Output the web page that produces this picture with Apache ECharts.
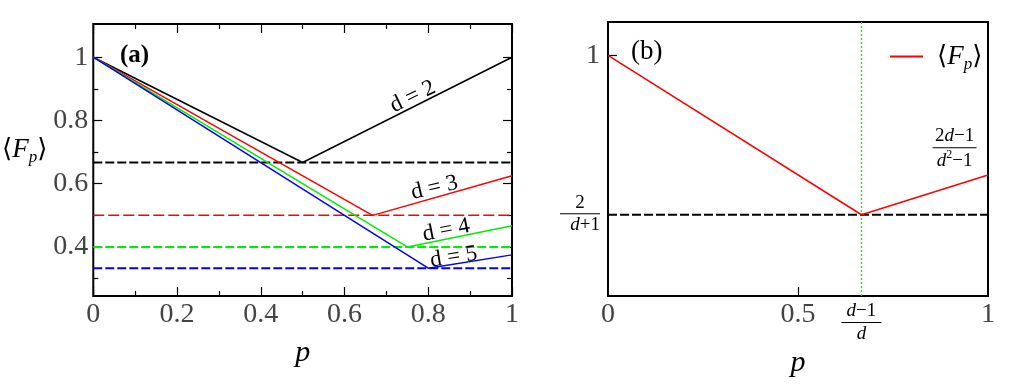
<!DOCTYPE html>
<html>
<head>
<meta charset="utf-8">
<script src="https://cdn.jsdelivr.net/npm/echarts@6/dist/echarts.min.js"></script>
<style>
  html, body { margin: 0; padding: 0; background: #fff; }
  #chart { width: 1036px; height: 388px; }
</style>
</head>
<body>
<div id="chart"></div>
<script>
// panel (a): average fidelity vs p for d = 2..5
const d2Line = [[0, 1], [0.5, 0.667], [1, 1]];
const d3Line = [[0, 1], [0.667, 0.5], [1, 0.625]];
const d4Line = [[0, 1], [0.75, 0.4], [1, 0.467]];
const d5Line = [[0, 1], [0.8, 0.333], [1, 0.375]];
const floorLevels = [0.667, 0.5, 0.4, 0.333];
const lineLabels = ['d = 2', 'd = 3', 'd = 4', 'd = 5'];
const labelAnchors = [[0.763, 0.875], [0.815, 0.587], [0.843, 0.453], [0.861, 0.368]];
const labelAngles = [26, 13, 11, 9];
const yMajorA = [0.4, 0.6, 0.8, 1];
const yMinorA = [0.3, 0.5, 0.7, 0.9];

// panel (b): generic d
const bLine = [[0, 1], [0.667, 0.5], [1, 0.625]];
const bFloor = 0.5;
const bCross = 0.667;
const bXLabels = [0, 0.5, 0.667, 1];
const bYLabels = [0.5, 1];
const bEndAnchor = [0.912, 0.704];

const yMin = 0.245, yMax = 1.105;
const serif = "'Liberation Serif', 'DejaVu Serif', serif";
const lineColors = ['#000000', '#ff0000', '#00ee00', '#0000ff'];

const chart = echarts.init(document.getElementById('chart'));

const fracRich = {
  fn: { fontFamily: serif, fontSize: 19, color: '#000', width: 40, align: 'center', lineHeight: 18 },
  fni: { fontFamily: serif, fontSize: 19, fontStyle: 'italic', color: '#000', lineHeight: 18 },
  bar: { width: 40, height: 1, backgroundColor: '#000', fontSize: 1, lineHeight: 3 },
  fdi: { fontFamily: serif, fontSize: 19, fontStyle: 'italic', color: '#000', lineHeight: 20 },
  fd: { fontFamily: serif, fontSize: 19, color: '#000', lineHeight: 20 },
  sup: { fontFamily: serif, fontSize: 12, color: '#000', padding: [0, 0, 12, 0], verticalAlign: 'bottom' }
};
const brackRich = {
  a: { fontFamily: serif, fontSize: 26, color: '#000', verticalAlign: 'bottom' },
  i: { fontFamily: serif, fontSize: 27, fontStyle: 'italic', color: '#000', verticalAlign: 'bottom' },
  s: { fontFamily: serif, fontSize: 17, fontStyle: 'italic', color: '#000', padding: [0, 0, -3, 0], verticalAlign: 'bottom' }
};
const fpText = '{a|⟨}{i|F}{s|p}{a|⟩}';

function tickLabel(size) {
  return { fontFamily: serif, fontSize: size, color: '#444' };
}

const pName = {
  name: 'p', nameLocation: 'middle', nameGap: 42,
  nameTextStyle: { fontFamily: serif, fontSize: 30, fontStyle: 'italic', color: '#000' }
};

const xAxes = [
  Object.assign({
    gridIndex: 0, type: 'value', min: 0, max: 1, interval: 0.2, position: 'bottom',
    axisLine: { show: false }, splitLine: { show: false },
    axisTick: { inside: true, length: 9, lineStyle: { color: '#000', width: 1.2 } },
    minorTick: { show: true, splitNumber: 2, length: 5, lineStyle: { color: '#000', width: 1.2 } },
    axisLabel: Object.assign(tickLabel(28), { margin: 5, showMinLabel: true, showMaxLabel: true,
      formatter: v => String(+v.toFixed(1)) })
  }, pName),
  {
    gridIndex: 0, type: 'value', min: 0, max: 1, interval: 0.2, position: 'top',
    axisLine: { show: false }, splitLine: { show: false }, axisLabel: { show: false },
    axisTick: { inside: true, length: 9, lineStyle: { color: '#000', width: 1.2 } },
    minorTick: { show: true, splitNumber: 2, length: 5, lineStyle: { color: '#000', width: 1.2 } }
  },
  Object.assign({
    gridIndex: 1, type: 'value', min: 0, max: 1, position: 'bottom',
    axisLine: { show: false }, splitLine: { show: false },
    axisTick: { inside: true, length: 9, customValues: [0.5], lineStyle: { color: '#000', width: 1.2 } },
    axisLabel: Object.assign(tickLabel(28), {
      margin: 5, customValues: bXLabels, hideOverlap: false,
      // fraction label where the minimum sits
      formatter: v => Math.abs(v - bCross) < 1e-6 ? '{fni|d}{fd|−1}\n{bar| }\n{fdi|d}' : String(v),
      rich: fracRich
    })
  }, pName)
];

function yTicks(pos, vals, len, labels) {
  return {
    gridIndex: 0, type: 'value', min: yMin, max: yMax, position: pos,
    axisLine: { show: false }, splitLine: { show: false },
    axisTick: { inside: true, length: len, customValues: vals, lineStyle: { color: '#000', width: 1.2 } },
    axisLabel: labels ? Object.assign(tickLabel(28), { margin: 5, customValues: vals, formatter: v => String(v) })
                      : { show: false }
  };
}

const yAxes = [
  Object.assign(yTicks('left', yMajorA, 9, true), {
    name: fpText, nameLocation: 'middle', nameGap: 46, nameRotate: 0,
    nameTextStyle: { rich: brackRich, align: 'right', padding: [0, 0, 20, 0] }
  }),
  yTicks('left', yMinorA, 5, false),
  yTicks('right', yMajorA, 9, false),
  yTicks('right', yMinorA, 5, false),
  {
    gridIndex: 1, type: 'value', min: yMin, max: yMax, position: 'left',
    axisLine: { show: false }, splitLine: { show: false },
    axisTick: { inside: true, length: 9, customValues: [1], lineStyle: { color: '#000', width: 1.2 } },
    axisLabel: Object.assign(tickLabel(28), {
      margin: 8, customValues: bYLabels, align: 'right',
      formatter: v => v === 1 ? '1' : '{fn|2}\n{bar| }\n{fdi|d}{fd|+1}',
      rich: fracRich
    })
  }
];

const curvesA = [d2Line, d3Line, d4Line, d5Line];
const floorStyles = [
  { width: 2, type: [9, 3] },
  { width: 1.5, type: [11, 4] },
  { width: 2, type: [9, 3] },
  { width: 2, type: [9, 3] }
];

const series = [];
curvesA.forEach((pts, k) => {
  series.push({
    type: 'line', xAxisIndex: 0, yAxisIndex: 0, data: pts, symbol: 'none', silent: true,
    lineStyle: { color: lineColors[k], width: 1.5 }, z: 3
  });
  series.push({
    type: 'line', xAxisIndex: 0, yAxisIndex: 0, symbol: 'none', silent: true,
    data: [[0, floorLevels[k]], [1, floorLevels[k]]],
    lineStyle: Object.assign({ color: lineColors[k] }, floorStyles[k]), z: 2
  });
  series.push({
    type: 'scatter', xAxisIndex: 0, yAxisIndex: 0, symbolSize: 0, silent: true,
    data: [labelAnchors[k]], itemStyle: { opacity: 1 },
    label: {
      show: true, position: 'inside', rotate: labelAngles[k], formatter: lineLabels[k],
      fontFamily: serif, fontSize: 23, color: '#000'
    }, z: 4
  });
});

// panel (b)
series.push({
  name: 'Fp', type: 'line', xAxisIndex: 2, yAxisIndex: 4, data: bLine, symbol: 'none', silent: true,
  lineStyle: { color: '#ff0000', width: 1.5 }, itemStyle: { color: '#ff0000' }, z: 3
});
series.push({
  type: 'line', xAxisIndex: 2, yAxisIndex: 4, symbol: 'none', silent: true,
  data: [[0, bFloor], [1, bFloor]],
  lineStyle: { color: '#000', width: 2, type: [9, 3] }, z: 2
});
series.push({
  type: 'line', xAxisIndex: 2, yAxisIndex: 4, symbol: 'none', silent: true,
  data: [[bCross, yMin], [bCross, yMax]],
  lineStyle: { color: '#00ff00', width: 1.4, type: [2, 2] }, z: 1
});
series.push({
  type: 'scatter', xAxisIndex: 2, yAxisIndex: 4, symbolSize: 0, silent: true,
  data: [bEndAnchor], itemStyle: { opacity: 1 },
  label: {
    show: true, position: 'inside',
    formatter: '{fd|2}{fni|d}{fd|−1}\n{bar| }\n{fdi|d}{sup|2}{fd|−1}',
    rich: Object.assign({}, fracRich, {
      bar: Object.assign({}, fracRich.bar, { width: 44 })
    })
  }
});

chart.setOption({
  animation: false,
  backgroundColor: '#fff',
  grid: [
    { left: 93, top: 24, width: 419, height: 272, show: true, borderColor: '#000', borderWidth: 2, backgroundColor: 'transparent' },
    { left: 608, top: 22, width: 380, height: 274, show: true, borderColor: '#000', borderWidth: 2, backgroundColor: 'transparent' }
  ],
  title: [
    { text: '(a)', left: 115, top: 38, textStyle: { fontFamily: serif, fontSize: 25, fontWeight: 'bold', color: '#000' } },
    { text: '(b)', left: 626, top: 33, textStyle: { fontFamily: serif, fontSize: 27, fontWeight: 'normal', color: '#000' } }
  ],
  legend: {
    data: ['Fp'], left: 885, top: 38, itemWidth: 33, itemHeight: 12, icon: 'path://M0,5 L33,5 L33,7 L0,7 Z',
    itemStyle: { color: '#ff0000' },
    formatter: () => fpText,
    textStyle: { rich: brackRich, padding: [0, 0, 0, 9] }
  },
  xAxis: xAxes,
  yAxis: yAxes,
  series: series
});
</script>
</body>
</html>
